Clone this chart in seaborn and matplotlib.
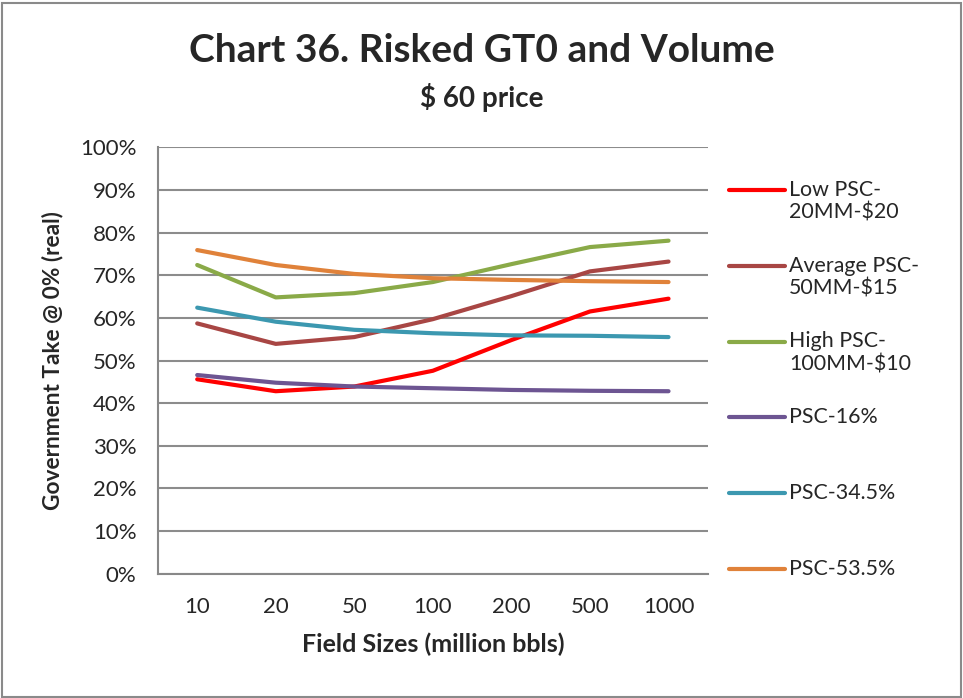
import matplotlib
matplotlib.use("Agg")
import matplotlib.pyplot as plt
import seaborn as sns
import pandas as pd
from matplotlib.legend_handler import HandlerLine2D
from matplotlib.transforms import Affine2D
from matplotlib.patches import Rectangle

field_sizes = ["10", "20", "50", "100", "200", "500", "1000"]
low_psc = [45.6, 42.8, 43.9, 47.6, 54.8, 61.5, 64.5]
avg_psc = [58.7, 53.9, 55.5, 59.7, 65.1, 70.9, 73.2]
high_psc = [72.4, 64.8, 65.8, 68.4, 72.6, 76.6, 78.1]
psc_16 = [46.6, 44.8, 43.9, 43.5, 43.1, 42.9, 42.8]
psc_345 = [62.4, 59.1, 57.2, 56.4, 55.9, 55.8, 55.5]
psc_535 = [75.9, 72.4, 70.3, 69.3, 68.9, 68.6, 68.4]

series_names = ["Low PSC-\n20MM-$20", "Average PSC-\n50MM-$15", "High PSC-\n100MM-$10",
                "PSC-16%", "PSC-34.5%", "PSC-53.5%"]
series_vals = [low_psc, avg_psc, high_psc, psc_16, psc_345, psc_535]
colors = ["#FF0000", "#A84644", "#8AAA48", "#6D5592", "#3C98B0", "#E0823A"]

rows = []
for name, vals in zip(series_names, series_vals):
    for fs, v in zip(field_sizes, vals):
        rows.append({"Field": fs, "Value": v, "Series": name})
df = pd.DataFrame(rows)

sns.set_style("white")
plt.rcParams["font.family"] = ["Lato", "DejaVu Sans"]

fig = plt.figure(figsize=(9.63, 6.98), dpi=100)
ax = fig.add_axes([0.164, 0.178, 0.571, 0.611])

sns.lineplot(data=df, x="Field", y="Value", hue="Series", palette=colors,
             hue_order=series_names, sort=False, linewidth=3.0, ax=ax, legend=False)
for ln in ax.lines:
    ln.set_solid_capstyle("round")

ax.set_ylim(0, 100)
ax.set_xlim(-0.5, 6.5)
ax.set_yticks(range(0, 101, 10))
ax.set_yticklabels([f"{v}%" for v in range(0, 101, 10)], fontsize=16)
ax.set_xticks(range(7))
ax.set_xticklabels(field_sizes, fontsize=16)
ax.set_xticks([i - 0.5 for i in range(8)], minor=True)
ax.tick_params(axis="x", which="major", length=0, pad=17)
ax.tick_params(axis="x", which="minor", length=4.5, width=1.2, color="#888888")
ax.tick_params(axis="y", which="major", length=4.5, width=1.2, color="#888888", pad=11)
ax.grid(axis="y", color="#8c8c8c", linewidth=1.5)
ax.set_axisbelow(True)
for s in ["top", "right"]:
    ax.spines[s].set_visible(False)
for s in ["left", "bottom"]:
    ax.spines[s].set_color("#888888")
    ax.spines[s].set_linewidth(1.5)

ax.set_xlabel("Field Sizes (million bbls)", fontsize=18, fontweight="bold", labelpad=11)
ax.set_ylabel("Government Take @ 0% (real)", fontsize=16.3, fontweight="bold", labelpad=12)

fig.text(0.5, 0.928, "Chart 36. Risked GT0 and Volume", ha="center", va="center",
         fontsize=28, fontweight="bold")
fig.text(0.5, 0.861, "$ 60 price", ha="center", va="center", fontsize=20, fontweight="bold")


class TopHandler(HandlerLine2D):
    def __init__(self, dy, **kw):
        super().__init__(**kw)
        self.dy = dy

    def create_artists(self, legend, orig_handle, xdescent, ydescent, width, height,
                       fontsize, trans):
        t = trans + Affine2D().translate(0, self.dy)
        return super().create_artists(legend, orig_handle, xdescent, ydescent, width,
                                      height, fontsize, t)


handles = ax.lines[:6]
labels = []
for n in series_names:
    labels.append(n if "\n" in n else n + "\n ")
hmap = {h: TopHandler(12) for h in handles}
leg = fig.legend(handles, labels, loc="upper left", bbox_to_anchor=(0.746, 0.758),
                 frameon=False, fontsize=15.4, handlelength=2.6, handletextpad=0.2,
                 labelspacing=1.53, handler_map=hmap, borderpad=0)

fig.patches.append(Rectangle((0.002, 0.002), 0.996, 0.994, transform=fig.transFigure,
                             fill=False, edgecolor="#8a8a8a", linewidth=1.5))

fig.savefig("out.png", dpi=100)
